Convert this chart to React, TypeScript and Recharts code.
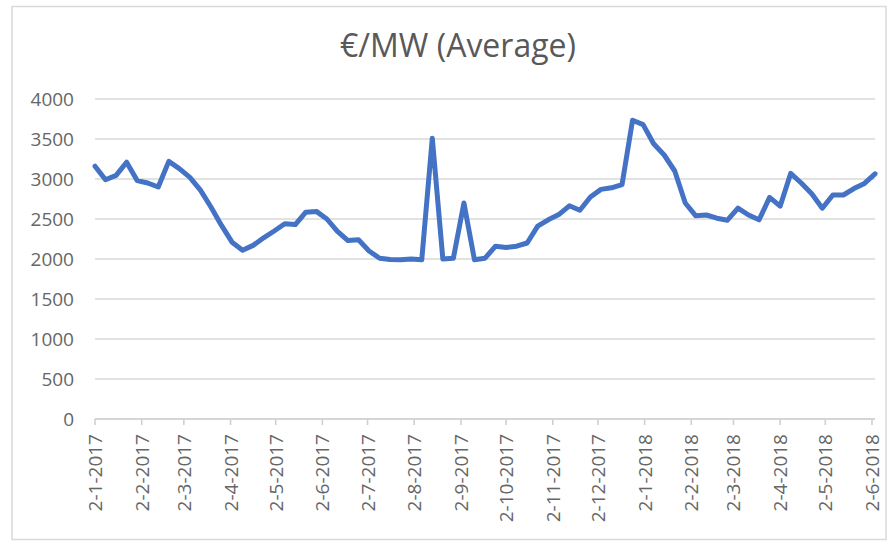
import React from 'react';
import { LineChart, Line, XAxis, YAxis, CartesianGrid } from 'recharts';

// Week-start dates (d-m-yyyy) of each weekly average
const weekStarts = [
  '2-1-2017', '9-1-2017', '16-1-2017', '23-1-2017', '30-1-2017',
  '6-2-2017', '13-2-2017', '20-2-2017', '27-2-2017',
  '6-3-2017', '13-3-2017', '20-3-2017', '27-3-2017',
  '3-4-2017', '10-4-2017', '17-4-2017', '24-4-2017',
  '1-5-2017', '8-5-2017', '15-5-2017', '22-5-2017', '29-5-2017',
  '5-6-2017', '12-6-2017', '19-6-2017', '26-6-2017',
  '3-7-2017', '10-7-2017', '17-7-2017', '24-7-2017', '31-7-2017',
  '7-8-2017', '14-8-2017', '21-8-2017', '28-8-2017',
  '4-9-2017', '11-9-2017', '18-9-2017', '25-9-2017',
  '2-10-2017', '9-10-2017', '16-10-2017', '23-10-2017', '30-10-2017',
  '6-11-2017', '13-11-2017', '20-11-2017', '27-11-2017',
  '4-12-2017', '11-12-2017', '18-12-2017', '25-12-2017',
  '1-1-2018', '8-1-2018', '15-1-2018', '22-1-2018', '29-1-2018',
  '5-2-2018', '12-2-2018', '19-2-2018', '26-2-2018',
  '5-3-2018', '12-3-2018', '19-3-2018', '26-3-2018',
  '2-4-2018', '9-4-2018', '16-4-2018', '23-4-2018', '30-4-2018',
  '7-5-2018', '14-5-2018', '21-5-2018', '28-5-2018',
  '4-6-2018',
];

// Average price in €/MW per week
const avgPrice = [
  3160, 2990, 3045, 3210, 2980,
  2950, 2900, 3220, 3130,
  3020, 2860, 2650, 2420,
  2210, 2110, 2170, 2265,
  2350, 2440, 2430, 2585, 2595,
  2500, 2345, 2230, 2240,
  2100, 2010, 1995, 1990, 2000,
  1990, 3510, 2000, 2010,
  2700, 1990, 2010, 2160,
  2145, 2160, 2200, 2410, 2490,
  2555, 2665, 2610, 2775,
  2870, 2890, 2930, 3735,
  3680, 3440, 3300, 3100, 2700,
  2540, 2550, 2510, 2485,
  2635, 2550, 2490, 2770,
  2660, 3070, 2950, 2815, 2635,
  2800, 2800, 2880, 2945,
  3065,
];

// Monthly axis labels
const monthTicks = [
  '2-1-2017', '2-2-2017', '2-3-2017', '2-4-2017', '2-5-2017', '2-6-2017',
  '2-7-2017', '2-8-2017', '2-9-2017', '2-10-2017', '2-11-2017', '2-12-2017',
  '2-1-2018', '2-2-2018', '2-3-2018', '2-4-2018', '2-5-2018', '2-6-2018',
];

const valueTicks = [0, 500, 1000, 1500, 2000, 2500, 3000, 3500, 4000];

const TITLE = '€/MW (Average)';
const FONT = '"Open Sans", "Noto Sans", sans-serif';
const TEXT_COLOR = '#666666';

function dayNumber(label: string): number {
  const [d, m, y] = label.split('-').map(Number);
  return Date.UTC(y, m - 1, d) / 86400000;
}

const rows = weekStarts.map((w, i) => ({ day: dayNumber(w), value: avgPrice[i] }));
const tickDays = monthTicks.map(dayNumber);
const labelByDay = new Map<number, string>(tickDays.map((d, i) => [d, monthTicks[i]]));

const DateTick = (props: any) => {
  const { x, y, payload } = props;
  const label = labelByDay.get(payload.value) ?? '';
  return (
    <text
      x={x}
      y={y}
      transform={`rotate(-90 ${x} ${y})`}
      textAnchor="end"
      dominantBaseline="central"
      fill={TEXT_COLOR}
      fontSize={19}
      fontFamily={FONT}
    >
      {label}
    </text>
  );
};

export default function App() {
  return (
    <div style={{ position: 'absolute', left: 0, top: 0, width: 894, height: 541, background: '#ffffff' }}>
      <LineChart
        width={894}
        height={541}
        data={rows}
        margin={{ top: 99, right: 19, left: 0, bottom: 10 }}
      >
        <CartesianGrid vertical={false} stroke="#d9d9d9" strokeWidth={1.6} />
        <XAxis
          dataKey="day"
          type="number"
          domain={[rows[0].day, rows[rows.length - 1].day]}
          ticks={tickDays}
          interval={0}
          height={112}
          stroke="#d0d0d0"
          strokeWidth={1.6}
          tickSize={6}
          tickMargin={9}
          tick={<DateTick />}
        />
        <YAxis
          width={95}
          domain={[0, 4000]}
          ticks={valueTicks}
          interval={0}
          axisLine={false}
          tickLine={false}
          tickSize={6}
          tickMargin={15}
          tick={{ fill: TEXT_COLOR, fontSize: 19, fontFamily: FONT }}
        />
        <Line
          type="linear"
          dataKey="value"
          stroke="#4472c4"
          strokeWidth={5}
          strokeLinejoin="round"
          strokeLinecap="round"
          dot={false}
          activeDot={false}
          isAnimationActive={false}
        />
      </LineChart>
      <svg
        width={894}
        height={541}
        style={{ position: 'absolute', left: 0, top: 0, pointerEvents: 'none' }}
      >
        <rect x={12} y={6.5} width={874} height={533} fill="none" stroke="#d9d9d9" strokeWidth={1.5} />
        <text x={458} y={57} textAnchor="middle" fill="#595959" fontSize={32} fontFamily={FONT}>
          {TITLE}
        </text>
      </svg>
    </div>
  );
}
